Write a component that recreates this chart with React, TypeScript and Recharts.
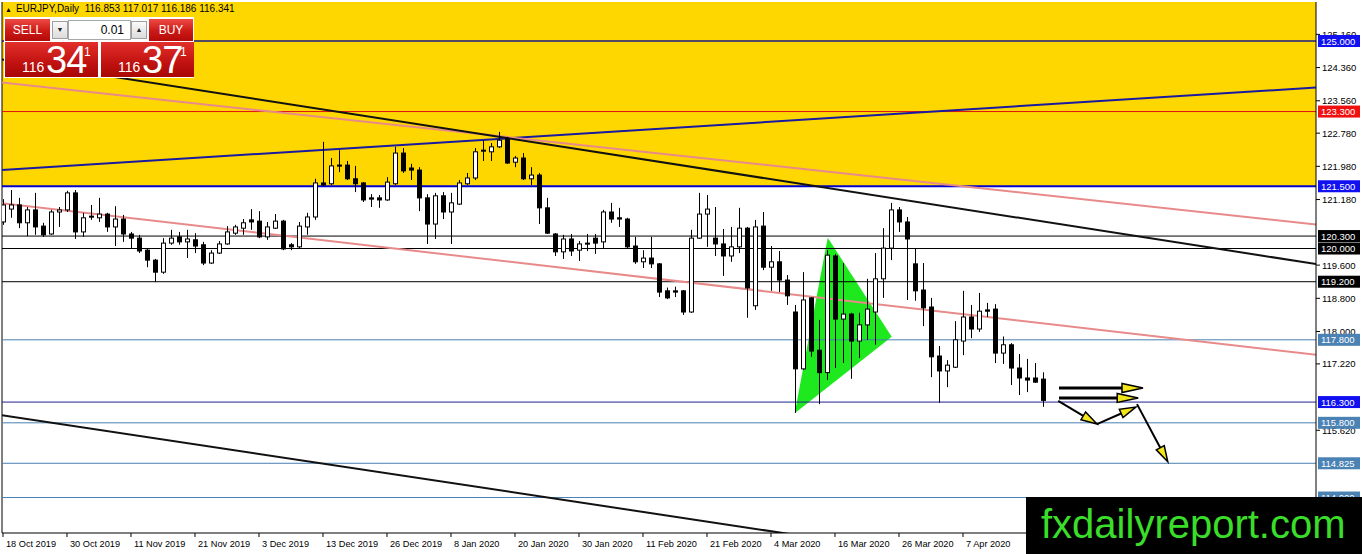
import React from "react";
import { ComposedChart, Bar, XAxis, YAxis, ReferenceLine, ReferenceArea } from "recharts";

// EURJPY daily, one label every 8 bars
const dateLabels = [
  "18 Oct 2019", "30 Oct 2019", "11 Nov 2019", "21 Nov 2019", "3 Dec 2019", "13 Dec 2019",
  "26 Dec 2019", "8 Jan 2020", "20 Jan 2020", "30 Jan 2020", "11 Feb 2020", "21 Feb 2020",
  "4 Mar 2020", "16 Mar 2020", "26 Mar 2020", "7 Apr 2020",
];

const opens = [
  120.64, 120.95, 121.05, 120.62, 120.93, 120.54, 120.35, 120.88, 120.93, 121.34,
  120.40, 120.78, 120.74, 120.83, 120.52, 120.71, 120.35, 120.25, 119.96, 119.72,
  119.43, 120.13, 120.28, 120.16, 120.21, 120.09, 119.65, 119.89, 120.11, 120.37,
  120.49, 120.69, 120.66, 120.28, 120.49, 120.66, 120.09, 120.04, 120.52, 120.76,
  121.58, 121.56, 122.01, 122.01, 121.68, 121.58, 121.22, 121.22, 121.17, 121.56,
  122.30, 121.94, 121.89, 121.22, 120.59, 121.27, 120.88, 121.07, 121.56, 121.70,
  122.37, 122.33, 122.45, 122.64, 122.08, 122.18, 121.68, 121.77, 120.98, 120.35,
  119.92, 120.23, 119.96, 120.13, 120.25, 120.16, 120.88, 120.74, 120.71, 120.06,
  119.68, 119.77, 119.63, 118.98, 118.98, 118.98, 118.47, 120.25, 120.83, 120.25,
  120.11, 119.82, 120.04, 120.49, 118.62, 120.54, 119.55, 119.68, 119.24, 118.47,
  117.10, 118.81, 117.55, 117.01, 119.82, 118.30, 118.42, 117.77, 118.16, 118.47,
  119.27, 120.01, 120.93, 120.64, 119.63, 119.00, 118.59, 117.41, 117.05, 117.14,
  117.77, 118.35, 118.06, 118.52, 118.54, 117.48, 117.68, 117.12, 116.88, 116.88,
  116.853,
];
const highs = [
  121.19, 121.41, 121.22, 121.00, 121.34, 120.62, 120.93, 121.00, 121.39, 121.41,
  120.86, 121.05, 121.22, 120.86, 121.02, 120.81, 120.40, 120.33, 119.99, 119.75,
  120.25, 120.45, 120.40, 120.45, 120.37, 120.16, 119.96, 120.18, 120.54, 120.57,
  120.71, 120.95, 120.90, 120.64, 120.83, 120.69, 120.13, 120.64, 120.86, 121.68,
  122.57, 122.18, 122.37, 122.11, 121.99, 121.60, 121.31, 121.29, 121.72, 122.45,
  122.42, 122.04, 121.96, 121.31, 121.34, 121.36, 121.34, 121.65, 121.82, 122.42,
  122.61, 122.54, 122.81, 122.69, 122.23, 122.30, 121.96, 121.82, 121.22, 120.37,
  120.33, 120.35, 120.18, 120.35, 120.35, 120.93, 121.10, 120.98, 120.74, 120.28,
  119.96, 120.28, 119.65, 119.06, 119.08, 119.00, 120.45, 121.34, 121.29, 121.00,
  120.47, 120.52, 120.98, 120.52, 120.69, 120.88, 120.06, 119.94, 119.36, 118.64,
  119.43, 118.83, 118.28, 119.96, 119.87, 119.65, 118.45, 118.45, 119.27, 119.89,
  120.49, 121.10, 121.00, 120.76, 120.01, 119.65, 118.81, 117.65, 117.31, 118.25,
  118.98, 118.64, 118.93, 118.69, 118.66, 117.88, 117.72, 117.46, 117.34, 117.24,
  117.017,
];
const lows = [
  120.57, 120.74, 120.49, 120.30, 120.33, 120.28, 120.33, 120.52, 120.88, 120.23,
  120.28, 120.69, 120.64, 120.40, 120.06, 120.16, 119.99, 119.89, 119.55, 119.19,
  119.39, 120.09, 120.09, 119.77, 119.89, 119.60, 119.63, 119.87, 120.09, 120.33,
  120.33, 120.45, 120.25, 120.21, 120.47, 119.96, 119.96, 120.01, 120.33, 120.69,
  121.51, 121.53, 121.84, 121.65, 121.36, 121.12, 121.00, 120.98, 121.15, 121.53,
  121.82, 121.65, 120.90, 120.11, 120.23, 120.71, 120.11, 121.05, 121.53, 121.65,
  122.11, 122.11, 122.42, 122.04, 121.96, 121.65, 121.53, 120.59, 120.35, 119.82,
  119.75, 119.82, 119.70, 119.94, 119.87, 119.99, 120.62, 120.52, 120.01, 119.63,
  119.53, 119.53, 118.83, 118.78, 118.83, 118.40, 118.45, 120.23, 120.04, 119.82,
  119.34, 119.68, 119.89, 118.33, 118.52, 119.48, 118.98, 118.95, 118.64, 116.04,
  117.07, 117.39, 116.25, 116.83, 117.12, 117.24, 116.86, 117.36, 117.80, 117.68,
  118.81, 119.72, 120.40, 118.76, 118.74, 118.13, 116.90, 116.28, 116.66, 117.12,
  117.43, 117.84, 117.99, 118.35, 117.24, 117.22, 116.71, 116.47, 116.54, 116.76,
  116.186,
];
const closes = [
  121.05, 121.05, 120.62, 120.93, 120.52, 120.33, 120.88, 120.93, 121.34, 120.40,
  120.74, 120.76, 120.83, 120.52, 120.71, 120.35, 120.25, 119.94, 119.72, 119.43,
  120.13, 120.25, 120.16, 120.23, 120.06, 119.65, 119.89, 120.11, 120.40, 120.52,
  120.62, 120.64, 120.28, 120.52, 120.66, 119.99, 120.04, 120.54, 120.76, 121.58,
  121.53, 121.99, 121.99, 121.68, 121.56, 121.17, 121.19, 121.17, 121.60, 122.30,
  121.87, 121.89, 121.22, 120.59, 121.27, 120.88, 121.10, 121.58, 121.70, 122.33,
  122.35, 122.45, 122.61, 122.06, 122.18, 121.68, 121.77, 120.98, 120.37, 119.92,
  120.23, 119.94, 120.11, 120.11, 120.13, 120.88, 120.71, 120.71, 120.04, 119.68,
  119.77, 119.63, 118.95, 118.81, 118.95, 118.47, 120.25, 120.83, 120.95, 120.11,
  119.82, 120.04, 120.49, 119.05, 120.52, 119.55, 119.68, 119.24, 118.86, 117.10,
  118.76, 117.53, 117.01, 119.84, 118.30, 118.42, 117.77, 118.16, 118.54, 119.27,
  120.01, 120.93, 120.64, 120.23, 118.98, 118.57, 117.39, 117.05, 117.19, 117.80,
  118.35, 118.06, 118.49, 118.49, 117.48, 117.68, 117.12, 116.88, 116.83, 116.78,
  116.341,
];

// price scale ticks (the ones sitting under a level box are hidden by it)
const yTicks = [125.16, 124.36, 123.56, 122.78, 121.98, 121.18, 119.6, 118.8, 118.0, 117.22, 115.62];

// horizontal levels drawn on the chart
const levels = [125.0, 123.3, 121.5, 120.3, 120.0, 119.2, 117.8, 116.3, 115.8, 114.825, 114.0];

// trend lines: [bar index, price] pairs
const blackUpper = [[-1, 124.58], [165, 119.6]];
const pinkUpper = [[-1, 124.02], [165, 120.56]];
const pinkLower = [[-1, 121.11], [165, 117.42]];
const blueRising = [[-1, 121.88], [165, 123.89]];
const blackLower = [[-1, 116.01], [110, 112.78]];
const wedge = [[98.96, 116.03], [103.09, 120.26], [111.09, 117.875]];
const thickArrows = [
  [[132.0, 116.64], [142.5, 116.64]],
  [[132.0, 116.4], [141.9, 116.4]],
];
const thinArrows = [
  [[131.9, 116.33], [136.75, 115.77]],
  [[136.75, 115.77], [141.6, 116.18]],
  [[141.75, 116.25], [145.6, 114.86]],
];

const rows = closes.map((c, i) => ({
  i, open: opens[i], high: highs[i], low: lows[i], close: c, range: [lows[i], highs[i]],
}));

const FONT = "'Liberation Sans', Arial, sans-serif";
const X_MIN = -0.125;
const X_MAX = 164.125;
const Y_MIN = 113.145;
const Y_MAX = 125.94;

const levelStyle: Record<string, { line: string; box: string; w: number }> = {
  "125": { line: "#1a1a80", box: "#1010f0", w: 1.5 },
  "123.3": { line: "#e01010", box: "#f01010", w: 1 },
  "121.5": { line: "#0000d0", box: "#1010f0", w: 2 },
  "120.3": { line: "#000", box: "#000", w: 1 },
  "120": { line: "#000", box: "#000", w: 1 },
  "119.2": { line: "#000", box: "#000", w: 1 },
  "116.3": { line: "#202090", box: "#1010f0", w: 1 },
};
const steel = { line: "#4a7fb0", box: "#4a82b4", w: 1 };
const styleOf = (v: number) => levelStyle[String(v)] || steel;

const Candle = (props: any) => {
  const { x, y, width, height, payload } = props;
  if (!payload || x == null || y == null) return null;
  const top = Math.min(y, y + height);
  const h = Math.abs(height);
  const span = payload.high - payload.low;
  const toPx = (v: number) => (span > 0 ? top + ((payload.high - v) / span) * h : top);
  const cx = Math.round(x + width / 2) + 0.5;
  const bTop = toPx(Math.max(payload.open, payload.close));
  const bBot = toPx(Math.min(payload.open, payload.close));
  const up = payload.close > payload.open;
  return (
    <g>
      <line x1={cx} x2={cx} y1={top} y2={top + h} stroke="#000" strokeWidth={1} />
      <rect x={cx - 2} y={bTop} width={4} height={Math.max(bBot - bTop, 1)} fill={up ? "#fff" : "#000"} stroke="#000" strokeWidth={1} />
    </g>
  );
};

const arrowShape = (thick: boolean) => (props: any) => {
  const { x1, y1, x2, y2 } = props;
  const ang = Math.atan2(y2 - y1, x2 - x1);
  const len = thick ? 21 : 16;
  const half = 4.5;
  const bx = x2 - len * Math.cos(ang);
  const by = y2 - len * Math.sin(ang);
  const px = -Math.sin(ang) * half;
  const py = Math.cos(ang) * half;
  return (
    <g>
      <line x1={x1} y1={y1} x2={bx} y2={by} stroke="#000" strokeWidth={thick ? 3 : 2} />
      <polygon points={`${x2},${y2} ${bx + px},${by + py} ${bx - px},${by - py}`} fill="#f2e51a" stroke="#000" strokeWidth={1.5} />
    </g>
  );
};

const wedgeShape = (props: any) => {
  const { x, y, width, height } = props;
  const xs = wedge.map((p) => p[0]);
  const ys = wedge.map((p) => p[1]);
  const x0 = Math.min(...xs), x1 = Math.max(...xs);
  const y0 = Math.min(...ys), y1 = Math.max(...ys);
  const pts = wedge
    .map((p) => `${x + ((p[0] - x0) / (x1 - x0)) * width},${y + ((y1 - p[1]) / (y1 - y0)) * height}`)
    .join(" ");
  return <polygon points={pts} fill="#1ee81e" stroke="none" />;
};

const DateTick = ({ x, y, payload }: any) => (
  <text x={x + 3} y={y + 8} fontSize={9.2} fontFamily={FONT} fill="#000" textAnchor="start">
    {dateLabels[Math.round(payload.value / 8)]}
  </text>
);

const PriceTick = ({ x, y, payload }: any) => (
  <text x={x} y={y + 3.5} fontSize={9.5} fontFamily={FONT} fill="#000" textAnchor="start">
    {Number(payload.value).toFixed(3)}
  </text>
);

// coloured price boxes for the levels, drawn by a second axis so they sit over the tick labels
const LevelBox = ({ y, payload }: any) => {
  const v = Number(payload.value);
  const st = styleOf(v);
  const bx = 1318;
  return (
    <g>
      <rect x={bx} y={y - 6} width={42} height={12} fill={st.box} />
      <text x={bx + 3} y={y + 3.5} fill="#fff" fontSize={9.5} fontFamily={FONT}>{v.toFixed(3)}</text>
    </g>
  );
};

const toSeg = (s: number[][]) => s.map((p) => ({ x: p[0], y: p[1] }));

const redBtn: React.CSSProperties = {
  position: "absolute", background: "linear-gradient(#ee4a44, #cc1a16 55%, #b30b08)",
  color: "#fff", fontFamily: FONT, display: "flex", alignItems: "center", justifyContent: "center",
};
const grayBtn: React.CSSProperties = {
  position: "absolute", background: "linear-gradient(#fafafa, #dcdcdc)", border: "1px solid #a0a0a0",
  boxSizing: "border-box", fontSize: 7, color: "#222", display: "flex", alignItems: "center", justifyContent: "center",
};

const PriceBox = ({ left, big }: { left: number; big: string }) => (
  <div style={{ ...redBtn, left, top: 42, width: 93, height: 35, background: "linear-gradient(#e2302b, #c01210 60%, #a80806)" }}>
    <span style={{ position: "absolute", left: 17, top: 17, fontSize: 14 }}>116</span>
    <span style={{ position: "absolute", left: 41, top: -3, fontSize: 38, letterSpacing: -1 }}>{big}</span>
    <span style={{ position: "absolute", left: 79, top: 3, fontSize: 12 }}>1</span>
  </div>
);

export default function App() {
  return (
    <div style={{ position: "absolute", left: 0, top: 0, width: 1362, height: 554, background: "#fff", overflow: "hidden" }}>
      <ComposedChart width={1362} height={554} data={rows} margin={{ top: 2, right: 0, bottom: 0, left: 2 }}>
        <XAxis
          dataKey="i" type="number" domain={[X_MIN, X_MAX]} allowDataOverflow
          ticks={dateLabels.map((_, k) => k * 8)} interval={0}
          tick={<DateTick />} tickSize={4} tickMargin={2} height={21}
          stroke="#000" axisLine={{ stroke: "#000" }} tickLine={{ stroke: "#000" }}
        />
        <YAxis
          orientation="right" type="number" domain={[Y_MIN, Y_MAX]} allowDataOverflow
          ticks={yTicks} interval={0} tick={<PriceTick />} tickSize={4} tickMargin={2} width={45}
          stroke="#000" axisLine={{ stroke: "#000" }} tickLine={{ stroke: "#000" }}
        />
        <YAxis
          yAxisId="boxes" orientation="right" type="number" domain={[Y_MIN, Y_MAX]} allowDataOverflow
          ticks={levels} interval={0} tick={<LevelBox />} tickSize={0} tickMargin={0} width={1}
          axisLine={false} tickLine={false}
        />
        <ReferenceArea x1={X_MIN} x2={X_MAX} y1={121.5} y2={Y_MAX} fill="#ffd700" fillOpacity={1} stroke="none" ifOverflow="hidden" />
        <ReferenceLine x={X_MIN} stroke="#000" strokeWidth={1} />
        <ReferenceArea
          x1={Math.min(...wedge.map((p) => p[0]))} x2={Math.max(...wedge.map((p) => p[0]))}
          y1={Math.min(...wedge.map((p) => p[1]))} y2={Math.max(...wedge.map((p) => p[1]))}
          shape={wedgeShape} ifOverflow="visible"
        />
        {levels.map((v) => {
          const st = styleOf(v);
          return <ReferenceLine key={v} y={v} stroke={st.line} strokeWidth={st.w} />;
        })}
        <ReferenceLine segment={toSeg(blueRising)} stroke="#1a1aa0" strokeWidth={2} ifOverflow="hidden" />
        <ReferenceLine segment={toSeg(pinkUpper)} stroke="#e88a8a" strokeWidth={2} ifOverflow="hidden" />
        <ReferenceLine segment={toSeg(pinkLower)} stroke="#e88a8a" strokeWidth={2} ifOverflow="hidden" />
        <ReferenceLine segment={toSeg(blackUpper)} stroke="#111" strokeWidth={2} ifOverflow="hidden" />
        <ReferenceLine segment={toSeg(blackLower)} stroke="#111" strokeWidth={2} ifOverflow="hidden" />
        <Bar dataKey="range" barSize={5} shape={Candle} isAnimationActive={false} zIndex={450} />
        {thickArrows.map((s, k) => (
          <ReferenceLine key={"ta" + k} segment={toSeg(s)} shape={arrowShape(true)} ifOverflow="visible" zIndex={460} />
        ))}
        {thinArrows.map((s, k) => (
          <ReferenceLine key={"na" + k} segment={toSeg(s)} shape={arrowShape(false)} ifOverflow="visible" zIndex={460} />
        ))}
      </ComposedChart>

      {/* chart header */}
      <div style={{ position: "absolute", left: 5, top: 3, fontSize: 10, fontFamily: FONT, color: "#000", whiteSpace: "nowrap" }}>
        <span style={{ fontSize: 7, marginRight: 4 }}>▲</span>EURJPY,Daily&nbsp;&nbsp;116.853 117.017 116.186 116.341
      </div>

      {/* one-click trading panel */}
      <div style={{ position: "absolute", left: 4, top: 17, width: 190, height: 61, background: "#fff" }} />
      <div style={{ ...redBtn, left: 5, top: 19, width: 45, height: 22, fontSize: 12 }}>SELL</div>
      <div style={{ ...grayBtn, left: 52, top: 21, width: 16, height: 18 }}>▼</div>
      <div style={{ position: "absolute", left: 68, top: 20, width: 63, height: 20, border: "1px solid #a8a8a8", boxSizing: "border-box", background: "#fff", fontSize: 12, fontFamily: FONT, textAlign: "right", paddingRight: 6, lineHeight: "18px" }}>0.01</div>
      <div style={{ ...grayBtn, left: 131, top: 21, width: 16, height: 18 }}>▲</div>
      <div style={{ ...redBtn, left: 149, top: 19, width: 44, height: 22, fontSize: 12 }}>BUY</div>
      <PriceBox left={5} big="34" />
      <PriceBox left={101} big="37" />

      {/* watermark */}
      <div style={{ position: "absolute", left: 1026, top: 497, width: 336, height: 57, background: "#000", color: "#3ade2a", fontFamily: FONT, fontSize: 40, lineHeight: "54px", paddingLeft: 15, boxSizing: "border-box", whiteSpace: "nowrap" }}>
        fxdailyreport.com
      </div>
    </div>
  );
}
